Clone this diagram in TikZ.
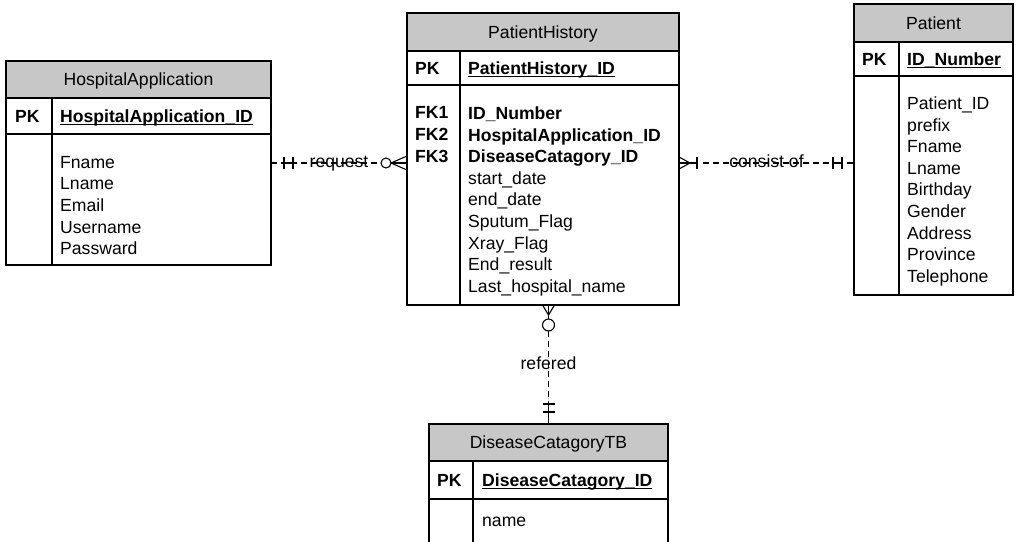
\documentclass[tikz,border=0pt]{standalone}
\usepackage{fontspec}
\setmainfont{Liberation Sans}
\usetikzlibrary{calc}

\newcommand{\keyline}[1]{\underline{\smash{#1}}}
\newcommand{\erfont}{\fontsize{17.6}{21.6}\selectfont}

\tikzset{
	tbl/.style={draw, line width=1.1pt, inner sep=0pt, outer sep=0pt},
	tblhead/.style={tbl, fill=black!22, text height=12.6pt, text depth=0pt},
	keytxt/.style={inner sep=0pt, text height=12.6pt, text depth=0pt, font=\erfont\bfseries},
	fieldtxt/.style={inner sep=0pt, anchor=north west, align=left},
	relline/.style={line width=1.1pt},
	reldash/.style={line width=1.1pt, dash pattern=on 6pt off 4pt},
	rellabel/.style={inner sep=0pt, text height=9.1pt, text depth=0pt}
}

\begin{document}
\begin{tikzpicture}[x=1pt, y=-1pt, font=\erfont]
	\useasboundingbox (0,0) rectangle (1016,541);
	\clip (0,0) rectangle (1016,541);
	\fill[white] (0,0) rectangle (1016,541);

	%HospitalApplication
	\node[tblhead, minimum width=265pt, minimum height=37pt, anchor=north west] (ha) at (6,61) {HospitalApplication};
	\node[tbl, minimum width=265pt, minimum height=36pt, anchor=north] (hapk) at (ha.south) {};
	\node[tbl, minimum width=265pt, minimum height=131pt, anchor=north] (habody) at (hapk.south) {};
	\draw[tbl] ($(hapk.north west)+(46,0)$) -- ($(habody.south west)+(46,0)$);
	\node[keytxt, anchor=west] (hapkl) at ($(hapk.west)+(9,0)$) {PK};
	\node[keytxt, anchor=west] (hakey) at ($(hapk.west)+(54,0)$) {\keyline{HospitalApplication\_ID}};
	\node[fieldtxt] (hafields) at ($(habody.north west)+(54,22)$) {Fname\\Lname\\Email\\Username\\Passward};

	%PatientHistory
	\node[tblhead, minimum width=272pt, minimum height=38pt, anchor=north west] (ph) at (407,13) {PatientHistory};
	\node[tbl, minimum width=272pt, minimum height=34pt, anchor=north] (phpk) at (ph.south) {};
	\node[tbl, minimum width=272pt, minimum height=220pt, anchor=north] (phbody) at (phpk.south) {};
	\draw[tbl] ($(phpk.north west)+(53,0)$) -- ($(phbody.south west)+(53,0)$);
	\node[keytxt, anchor=west] (phpkl) at ($(phpk.west)+(8,0)$) {PK};
	\node[keytxt, anchor=west] (phkey) at ($(phpk.west)+(61,0)$) {\keyline{PatientHistory\_ID}};
	\node[fieldtxt, font=\erfont\bfseries] (phfk) at ($(phbody.north west)+(8,21.5)$) {FK1\\FK2\\FK3};
	\node[fieldtxt] (phfields) at ($(phbody.north west)+(61,21.5)$) {\textbf{ID\_Number}\\\textbf{HospitalApplication\_ID}\\\textbf{DiseaseCatagory\_ID}\\start\_date\\end\_date\\Sputum\_Flag\\Xray\_Flag\\End\_result\\Last\_hospital\_name};

	%Patient
	\node[tblhead, minimum width=159pt, minimum height=38pt, anchor=north west] (pat) at (854,4) {Patient};
	\node[tbl, minimum width=159pt, minimum height=34pt, anchor=north] (patpk) at (pat.south) {};
	\node[tbl, minimum width=159pt, minimum height=219pt, anchor=north] (patbody) at (patpk.south) {};
	\draw[tbl] ($(patpk.north west)+(45,0)$) -- ($(patbody.south west)+(45,0)$);
	\node[keytxt, anchor=west] (patpkl) at ($(patpk.west)+(8,0)$) {PK};
	\node[keytxt, anchor=west] (patkey) at ($(patpk.west)+(53,0)$) {\keyline{ID\_Number}};
	\node[fieldtxt] (patfields) at ($(patbody.north west)+(53,20.6)$) {Patient\_ID\\prefix\\Fname\\Lname\\Birthday\\Gender\\Address\\Province\\Telephone};

	%DiseaseCatagoryTB
	\node[tblhead, minimum width=239pt, minimum height=37pt, anchor=north west] (dis) at (429,424) {DiseaseCatagoryTB};
	\node[tbl, minimum width=239pt, minimum height=38pt, anchor=north] (dispk) at (dis.south) {};
	\node[tbl, minimum width=239pt, minimum height=70pt, anchor=north] (disbody) at (dispk.south) {};
	\draw[tbl] ($(dispk.north west)+(44,0)$) -- ($(disbody.south west)+(44,0)$);
	\node[keytxt, anchor=west] (dispkl) at ($(dispk.west)+(8,0)$) {PK};
	\node[keytxt, anchor=west] (diskey) at ($(dispk.west)+(53,0)$) {\keyline{DiseaseCatagory\_ID}};
	\node[fieldtxt] (disfields) at ($(disbody.north west)+(53,18)$) {name};

	%request
	\coordinate (reqa) at ($(habody.north east)+(0,29)$);
	\coordinate (reqb) at (reqa -| phbody.west);
	\draw[reldash] (reqa) -- (reqb);
	\node[rellabel] (reqlbl) at ($(reqa)!0.5!(reqb)$) {request};
	\draw[relline] ($(reqa)+(13,-6)$) -- ++(0,12);
	\draw[relline] ($(reqa)+(22,-6)$) -- ++(0,12);
	\draw[relline] ($(reqa)+(13,0)$) -- ++(9,0);
	\draw[relline] ($(reqb)+(0,-7)$) -- ($(reqb)+(-16,0)$) -- ($(reqb)+(0,7)$);
	\draw[relline] ($(reqb)+(-16,0)$) -- (reqb);
	\draw[relline, fill=white] ($(reqb)+(-21,0)$) circle (5pt);

	%consist of
	\coordinate (cona) at (reqa -| phbody.east);
	\coordinate (conb) at (reqa -| patbody.west);
	\draw[reldash] ($(cona)+(24,0)$) -- ($(conb)+(-24,0)$);
	\node[rellabel] (conlbl) at ($(cona)!0.5!(conb)$) {consist of};
	\draw[relline] ($(cona)+(0,-6)$) -- ($(cona)+(11,0)$) -- ($(cona)+(0,6)$);
	\draw[relline] (cona) -- ++(18,0);
	\draw[relline] ($(cona)+(18,-6)$) -- ++(0,12);
	\draw[relline] ($(conb)+(-21,-6)$) -- ++(0,12);
	\draw[relline] ($(conb)+(-12,-6)$) -- ++(0,12);
	\draw[relline] ($(conb)+(-21,0)$) -- ++(9,0);
	\draw[relline] ($(conb)+(-7,0)$) -- (conb);

	%refered
	\coordinate (refa) at (dis.north |- phbody.south);
	\coordinate (refb) at (dis.north);
	\draw[reldash] ($(refa)+(0,26)$) -- ($(refb)+(0,-20)$);
	\node[rellabel] (reflbl) at ($(refa)+(0,60)$) {refered};
	\draw[relline] ($(refa)+(-6,0)$) -- ($(refa)+(0,10)$) -- ($(refa)+(6,0)$);
	\draw[relline] (refa) -- ++(0,14);
	\draw[relline, fill=white] ($(refa)+(0,20)$) circle (6pt);
	\draw[relline] ($(refb)+(-6,-20)$) -- ++(12,0);
	\draw[relline] ($(refb)+(-6,-12)$) -- ++(12,0);
	\draw[relline] ($(refb)+(0,-20)$) -- (refb);
\end{tikzpicture}
\end{document}
